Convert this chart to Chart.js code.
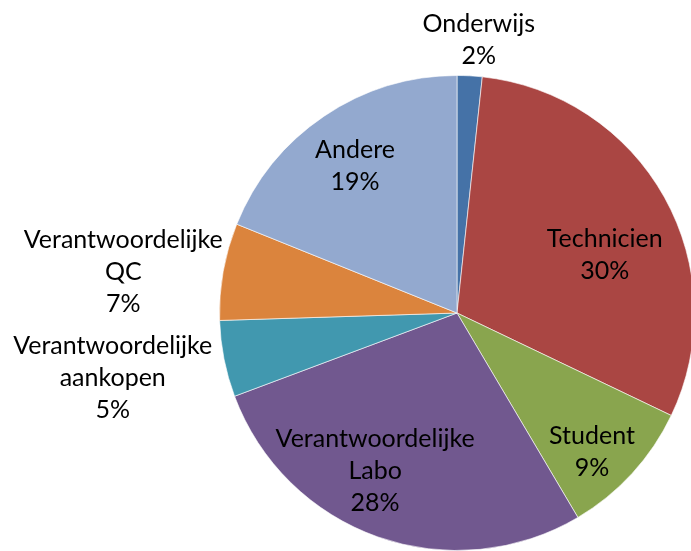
<!DOCTYPE html>
<html>
<head>
<meta charset="utf-8">
<script src="https://cdn.jsdelivr.net/npm/chart.js@4"></script>
<style>
  html, body { margin: 0; padding: 0; background: #fff; overflow: hidden; }
  canvas { display: block; }
</style>
</head>
<body>
<canvas id="pieChart" width="700" height="551"></canvas>
<script>
// categories and values (percent of respondents)
const categories = [
  'Onderwijs',
  'Technicien',
  'Student',
  'Verantwoordelijke Labo',
  'Verantwoordelijke aankopen',
  'Verantwoordelijke QC',
  'Andere'
];
const values = [1.7, 30.4, 9.4, 27.8, 5.2, 6.6, 18.9];

const colors = ['#4572A7', '#AA4643', '#89A54E', '#71588F', '#4198AF', '#DB843D', '#93A9CF'];

// where each label sits: radius factor and angle nudge (deg) from slice middle
const labelPos = [
  { r: 1.155, da: 1.5 },
  { r: 0.668, da: 7.8 },
  { r: 0.815, da: 3.3 },
  { r: 0.748, da: 8 },
  { r: 1.475, da: 0.5 },
  { r: 1.416, da: -3 },
  { r: 0.752, da: -0.8 }
];

const sliceLabels = {
  id: 'sliceLabels',
  afterDatasetsDraw(chart) {
    const ctx = chart.ctx;
    const meta = chart.getDatasetMeta(0);
    const total = values.reduce((a, b) => a + b, 0);
    ctx.save();
    ctx.font = '25px Lato';
    ctx.fillStyle = '#000';
    ctx.textAlign = 'center';
    ctx.textBaseline = 'middle';
    meta.data.forEach((arc, i) => {
      const p = arc.getProps(['x', 'y', 'startAngle', 'endAngle', 'outerRadius'], true);
      const a = (p.startAngle + p.endAngle) / 2 + labelPos[i].da * Math.PI / 180;
      const cx = p.x + Math.cos(a) * p.outerRadius * labelPos[i].r;
      const cy = p.y + Math.sin(a) * p.outerRadius * labelPos[i].r;
      const lines = categories[i].split(' ');
      lines.push(Math.round(values[i] / total * 100) + '%');
      const lh = 32;
      const top = cy - (lines.length - 1) * lh / 2;
      lines.forEach((t, j) => ctx.fillText(t, cx, top + j * lh));
    });
    ctx.restore();
  }
};

const pie_data = {
  labels: categories,
  datasets: [{
    data: values,
    backgroundColor: colors,
    borderColor: 'rgba(255,255,255,0.6)',
    borderWidth: 1
  }]
};

const pie_config = {
  type: 'pie',
  data: pie_data,
  options: {
    responsive: false,
    animation: false,
    layout: { padding: { left: 219, top: 75, right: 5, bottom: 0 } },
    plugins: {
      legend: { display: false },
      tooltip: { enabled: false }
    }
  },
  plugins: [sliceLabels]
};

var pieChart = new Chart(document.getElementById('pieChart'), pie_config);
</script>
</body>
</html>
